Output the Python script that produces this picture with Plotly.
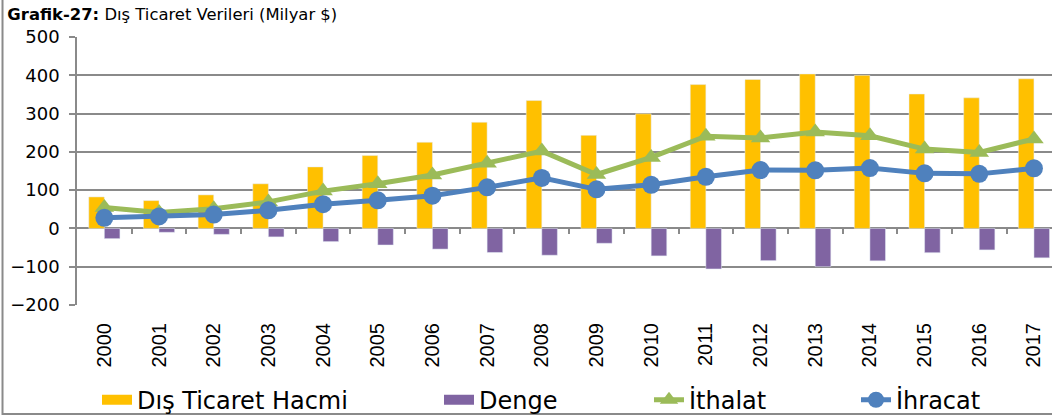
import plotly.graph_objects as go

years = [str(y) for y in range(2000, 2018)]
hacim = [82.3, 72.7, 87.6, 116.6, 160.7, 190.3, 225.1, 277.3, 334.0, 243.1,
         299.4, 375.7, 389.0, 403.5, 399.8, 351.1, 341.1, 390.8]
denge = [-26.7, -10.1, -15.5, -22.1, -34.4, -43.3, -54.0, -62.8, -70.0, -38.8,
         -71.7, -105.9, -84.1, -99.9, -84.6, -63.4, -56.1, -76.8]
ithalat = [54.5, 41.4, 51.6, 69.3, 97.5, 116.8, 139.6, 170.1, 202.0, 140.9,
           185.5, 240.8, 236.5, 251.7, 242.2, 207.2, 198.6, 233.8]
ihracat = [27.8, 31.3, 36.1, 47.3, 63.2, 73.5, 85.5, 107.3, 132.0, 102.1,
           113.9, 134.9, 152.5, 151.8, 157.6, 143.8, 142.5, 157.0]

xs = list(range(len(years)))
xrange_ = [-0.5, 17.33]
grid = '#8a8a8a'
yellow, purple, green, blue = '#FFC000', '#8064A2', '#9BBB59', '#4F81BD'

fig = go.Figure()
fig.add_trace(go.Bar(x=xs, y=hacim, name='Dış Ticaret Hacmi', marker_color=yellow,
                     showlegend=False))
fig.add_trace(go.Bar(x=xs, y=denge, name='Denge', marker_color=purple, showlegend=False))
# lines sit on the overlay axis (which also carries the tick marks on the zero line)
fig.add_trace(go.Scatter(x=xs, y=ithalat, name='İthalat', mode='lines+markers', xaxis='x2',
                         line=dict(color=green, width=5), legend='legend3',
                         marker=dict(symbol='triangle-up', size=17, color=green)))
fig.add_trace(go.Scatter(x=xs, y=ihracat, name='İhracat', mode='lines+markers', xaxis='x2',
                         line=dict(color=blue, width=5), legend='legend4',
                         marker=dict(symbol='circle', size=18, color=blue)))
# legend swatches for the bar series (wide rectangles, as in the original)
fig.add_trace(go.Scatter(x=[None], y=[None], name='Dış Ticaret Hacmi', mode='lines',
                         line=dict(color=yellow, width=13), legend='legend'))
fig.add_trace(go.Scatter(x=[None], y=[None], name='Denge', mode='lines',
                         line=dict(color=purple, width=13), legend='legend2'))


def px_x(px):
    return (px - 77) / 975


leg = dict(orientation='h', xanchor='left', y=-0.355, yanchor='middle',
           font=dict(size=24, color='black'), itemwidth=30, bgcolor='rgba(0,0,0,0)')

fig.update_layout(
    width=1052, height=419,
    margin=dict(l=77, r=0, t=37, b=114, autoexpand=False),
    plot_bgcolor='white', paper_bgcolor='white',
    barmode='group', bargap=0.43, bargroupgap=0,
    font=dict(family='DejaVu Sans', color='black'),
    title=dict(text='<b>Grafik-27:</b> Dış Ticaret Verileri (Milyar $)',
               x=0.007, xanchor='left', y=0.965, yanchor='middle',
               font=dict(size=16.4, color='black')),
    showlegend=True,
    legend=dict(leg, x=px_x(97)),
    legend2=dict(leg, x=px_x(439)),
    legend3=dict(leg, x=px_x(649)),
    legend4=dict(leg, x=px_x(856)),
    xaxis=dict(range=xrange_, tickvals=xs, ticktext=years, tickangle=-90,
               showgrid=False, zeroline=False, showline=False,
               ticks='outside', ticklen=9, tickcolor='rgba(0,0,0,0)',
               tickfont=dict(family='Liberation Sans', size=20, color='black')),
    xaxis2=dict(overlaying='x', range=xrange_, anchor='free', position=200 / 700,
                tickvals=[i + 0.5 for i in xs[:-1]], ticks='outside', ticklen=5,
                tickcolor=grid, tickwidth=2, showticklabels=False,
                showgrid=False, zeroline=False, showline=False),
    yaxis=dict(range=[-200, 500], dtick=100, showgrid=True, gridcolor=grid, gridwidth=2,
               zeroline=False, showline=True, linecolor=grid, linewidth=2,
               ticks='outside', ticklen=6, tickcolor=grid, tickwidth=2, ticksuffix='\u00a0',
               tickfont=dict(size=18, color='black')),
    shapes=[dict(type='rect', xref='paper', yref='paper',
                 x0=-0.0764, x1=1.1, y0=-0.4067, y1=1.3,
                 line=dict(color=grid, width=2), fillcolor='rgba(0,0,0,0)',
                 layer='above')],
)

fig.write_html('out.html', config={'displayModeBar': False},
               post_script="document.body.style.margin='0';")
